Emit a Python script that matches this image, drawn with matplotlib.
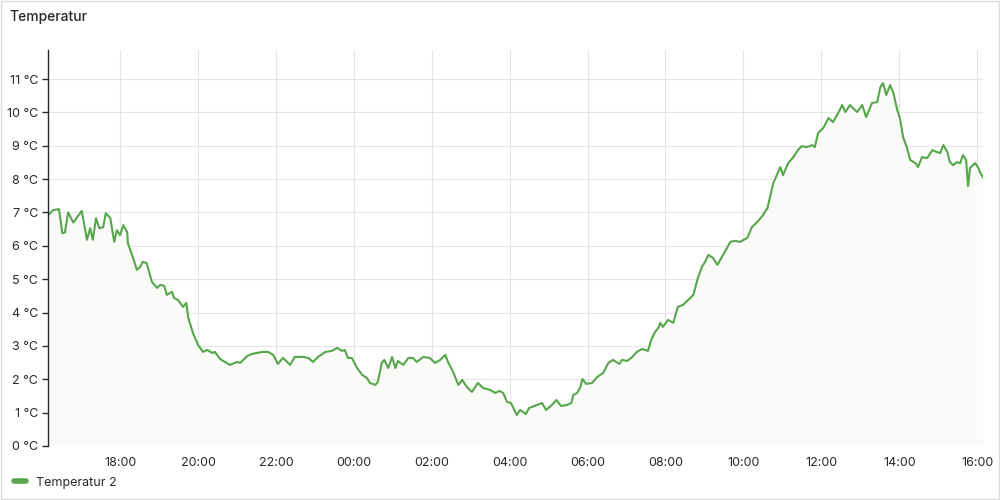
"""Grafana-style temperature panel: one day of 'Temperatur 2'."""
from datetime import datetime, timedelta

import matplotlib
matplotlib.use("Agg")
import matplotlib.pyplot as plt
import matplotlib.dates as mdates
from matplotlib.patches import Rectangle

plt.rcParams["font.family"] = ["Inter", "DejaVu Sans"]

# readings: minutes after the window start, value in °C
start = datetime(2024, 1, 1, 16, 9)
minutes = [0, 8, 17, 22, 26, 31, 39, 52, 60, 65, 69, 74, 79, 85, 89, 96, 102, 106,
           111, 116, 122, 123, 131, 137, 142, 146, 152, 160, 168, 173, 179, 183,
           191, 194, 200, 208, 213, 216, 223, 231, 239, 245, 253, 257, 265, 280,
           291, 296, 307, 314, 322, 330, 339, 347, 354, 362, 373, 380, 393, 401,
           408, 416, 427, 437, 445, 453, 457, 462, 468, 476, 484, 491, 496, 504,
           508, 514, 518, 524, 530, 535, 539, 547, 555, 562, 568, 578, 588, 596,
           604, 612, 616, 624, 632, 638, 645, 653, 662, 670, 681, 689, 695, 701,
           707, 713, 722, 727, 736, 741, 753, 761, 767, 776, 783, 790, 799, 806,
           809, 815, 820, 823, 829, 838, 846, 855, 863, 870, 880, 884, 892, 900,
           907, 915, 924, 929, 935, 940, 943, 947, 955, 963, 970, 978, 986, 994,
           1000, 1007, 1012, 1017, 1024, 1031, 1038, 1046, 1051, 1058, 1066, 1077,
           1084, 1092, 1100, 1108, 1112, 1117, 1128, 1132, 1140, 1148, 1155, 1161,
           1169, 1177, 1181, 1186, 1194, 1202, 1209, 1217, 1223, 1228, 1235, 1246,
           1254, 1260, 1269, 1277, 1282, 1286, 1291, 1297, 1302, 1308, 1312, 1317,
           1323, 1328, 1336, 1340, 1346, 1354, 1362, 1369, 1374, 1379, 1385, 1389,
           1394, 1400, 1405, 1409, 1414, 1417, 1420, 1428, 1433, 1436, 1440]
temps = [6.92, 7.07, 7.10, 6.38, 6.40, 7.00, 6.70, 7.05, 6.18, 6.53, 6.18, 6.83,
         6.53, 6.56, 6.98, 6.83, 6.12, 6.47, 6.32, 6.62, 6.41, 6.08, 5.64, 5.28,
         5.37, 5.52, 5.48, 4.92, 4.74, 4.83, 4.80, 4.53, 4.62, 4.44, 4.38, 4.17,
         4.29, 3.85, 3.40, 3.03, 2.82, 2.88, 2.79, 2.82, 2.61, 2.43, 2.52, 2.49,
         2.70, 2.76, 2.79, 2.82, 2.82, 2.73, 2.46, 2.64, 2.43, 2.67, 2.67, 2.64,
         2.52, 2.67, 2.82, 2.85, 2.94, 2.85, 2.88, 2.64, 2.64, 2.34, 2.13, 2.04,
         1.89, 1.83, 1.92, 2.49, 2.58, 2.34, 2.67, 2.34, 2.55, 2.43, 2.64, 2.64,
         2.52, 2.67, 2.64, 2.49, 2.58, 2.73, 2.52, 2.22, 1.83, 1.98, 1.77, 1.62,
         1.89, 1.74, 1.68, 1.59, 1.65, 1.59, 1.32, 1.29, 0.93, 1.08, 0.96, 1.14,
         1.23, 1.29, 1.08, 1.23, 1.38, 1.20, 1.23, 1.29, 1.53, 1.59, 1.77, 2.01,
         1.86, 1.89, 2.07, 2.19, 2.49, 2.58, 2.46, 2.58, 2.55, 2.67, 2.82, 2.91,
         2.85, 3.18, 3.42, 3.54, 3.69, 3.57, 3.78, 3.69, 4.17, 4.23, 4.38, 4.53,
         4.98, 5.37, 5.52, 5.73, 5.64, 5.43, 5.67, 5.94, 6.12, 6.15, 6.12, 6.24,
         6.56, 6.71, 6.89, 7.13, 7.46, 7.88, 8.36, 8.12, 8.48, 8.66, 8.87, 8.99,
         8.96, 9.02, 8.96, 9.38, 9.53, 9.83, 9.71, 9.98, 10.22, 10.01, 10.22, 10.01,
         10.22, 9.86, 10.28, 10.31, 10.76, 10.88, 10.52, 10.82, 10.58, 10.07, 9.83,
         9.26, 8.93, 8.57, 8.48, 8.36, 8.66, 8.63, 8.87, 8.81, 8.78, 9.02, 8.81,
         8.51, 8.42, 8.51, 8.48, 8.72, 8.57, 7.79, 8.33, 8.48, 8.33, 8.18, 8.06]
series_name = "Temperatur 2"
panel_title = "Temperatur"

GREEN = "#56a64b"
TEXT = "#24292e"
GRID = "#e4e4e4"

times = [start + timedelta(minutes=m) for m in minutes]

fig = plt.figure(figsize=(10, 5), dpi=100)
fig.patch.set_facecolor("white")
fig.add_artist(Rectangle((0.001, 0.003), 0.998, 0.995, transform=fig.transFigure,
                         fill=False, edgecolor="#dcdcdc", lw=1))
fig.text(0.009, 0.966, panel_title, fontsize=10, color=TEXT, fontweight="medium",
         va="center", ha="left")

ax = fig.add_axes([0.048, 0.108, 0.935, 0.792])
ax.fill_between(times, temps, 0, color="#fafaf8", lw=0)
ax.plot(times, temps, color=GREEN, lw=1.5, label=series_name)

ax.set_xlim(start, start + timedelta(minutes=1440))
ax.set_ylim(0, 11.87)
ax.set_yticks(range(0, 12))
ax.set_yticklabels([f"{v} °C" for v in range(0, 12)])
ax.xaxis.set_major_locator(mdates.HourLocator(byhour=range(0, 24, 2)))
ax.xaxis.set_major_formatter(mdates.DateFormatter("%H:%M"))

ax.grid(True, color=GRID, lw=0.8)
ax.set_axisbelow(True)
for side in ("top", "right", "bottom"):
    ax.spines[side].set_visible(False)
ax.spines["left"].set_color(TEXT)
ax.spines["left"].set_linewidth(1.0)
ax.tick_params(axis="y", length=4, width=1, color=TEXT, labelsize=9,
               labelcolor=TEXT, pad=3)
ax.tick_params(axis="x", length=0, labelsize=9, labelcolor=TEXT, pad=8)

fig.legend(loc="lower left", bbox_to_anchor=(0.003, 0.0), frameon=False,
           fontsize=9, handlelength=0.9, handletextpad=0.8,
           labelcolor=TEXT)
for h in fig.legends[0].legend_handles:
    h.set_linewidth(4)
    h.set_solid_capstyle("round")

fig.savefig("out.png", dpi=100, facecolor="white")
